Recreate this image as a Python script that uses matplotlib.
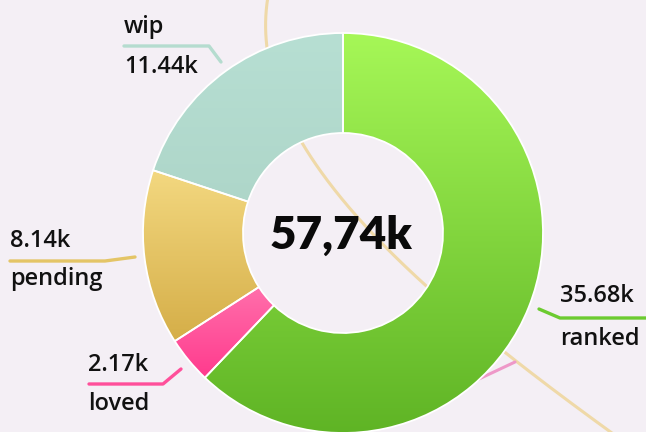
import numpy as np
import matplotlib
matplotlib.use("Agg")
import matplotlib.pyplot as plt
from matplotlib.colors import LinearSegmentedColormap

# data
categories = ["ranked", "loved", "pending", "wip"]
values = [35.68, 2.17, 8.14, 11.44]
value_labels = ["35.68k", "2.17k", "8.14k", "11.44k"]
total_label = "57,74k"

# gradient (top, bottom) per slice
grad_colors = [
    ("#a6f757", "#5fb425"),
    ("#ff6fab", "#ff3a8d"),
    ("#f3d880", "#d5ae48"),
    ("#b7dfd3", "#aed6c9"),
]
line_colors = ["#6ccb30", "#ff4f9a", "#e4c566", "#b5dccf"]

W, H = 646, 432
BG = "#f4eff5"
CENTER_FONT = ["Lato", "DejaVu Sans"]
LABEL_FONT = ["Open Sans", "DejaVu Sans"]


def up(y):
    # screen pixel row -> data y
    return H - y


fig = plt.figure(figsize=(W / 100, H / 100), dpi=100, facecolor=BG)
ax = fig.add_axes([0, 0, 1, 1])
ax.set_facecolor(BG)

# decorative background curves
ys = np.array([0, 50, 140, 190, 220, 280, 353, 432])
xs = np.array([266, 270, 300, 333, 360, 420, 507, 610])
coef = np.polyfit(ys, xs, 3)
yy = np.linspace(-5, 440, 300)
ax.plot(np.polyval(coef, yy), up(yy), color="#efd9a8", lw=2.2, zorder=1,
        solid_capstyle="round")
ax.plot([430, 515], [up(402), up(362)], color="#ee98c8", lw=2.2, zorder=1,
        solid_capstyle="round")

cx, cy, R = 343, up(233), 200
wedges, _ = ax.pie(
    values, radius=R, center=(cx, cy), startangle=90, counterclock=False,
    wedgeprops=dict(width=R * 0.5, edgecolor="white", linewidth=1.3),
    frame=True,
)

grad = np.linspace(0, 1, 256).reshape(-1, 1)
for w, (top, bottom) in zip(wedges, grad_colors):
    bb = w.get_path().get_extents()
    cmap = LinearSegmentedColormap.from_list("g", [bottom, top])
    im = ax.imshow(grad, extent=(bb.x0, bb.x1, bb.y0, bb.y1), origin="lower",
                   cmap=cmap, aspect="auto", interpolation="bicubic", zorder=2)
    im.set_clip_path(w)
    w.set_facecolor("none")
    w.set_zorder(3)

ax.text(cx - 2, cy - 2, total_label, ha="center", va="center", fontsize=33,
        fontweight="heavy", family=CENTER_FONT, color="#0a0a0a", zorder=5)

# label layout: (upper text, lower text, x, upper baseline, lower baseline, leader path)
layout = {
    "wip": ("wip", "11.44k", 124, 33, 73,
            [(124, 46), (209, 46), (221, 62)]),
    "pending": ("8.14k", "pending", 10, 247, 285,
                [(10, 261), (105, 261), (135, 257)]),
    "loved": ("2.17k", "loved", 88, 371, 410,
              [(89, 384), (163, 384), (181, 369)]),
    "ranked": ("35.68k", "ranked", 560, 302, 345,
               [(539, 309), (560, 318), (648, 318)]),
}

for i, cat in enumerate(categories):
    t1, t2, x, b1, b2, path = layout[cat]
    px = [p[0] for p in path]
    py = [up(p[1]) for p in path]
    ax.plot(px, py, color=line_colors[i], lw=2.4, solid_capstyle="round",
            solid_joinstyle="round", zorder=4)
    for txt, b in ((t1, b1), (t2, b2)):
        ax.text(x, up(b), txt, ha="left", va="baseline", fontsize=17,
                fontweight="semibold", family=LABEL_FONT, color="#111111",
                zorder=5)

ax.set_xlim(0, W)
ax.set_ylim(0, H)
ax.set_aspect("equal")
ax.axis("off")

fig.savefig("out.png", dpi=100, facecolor=BG)
